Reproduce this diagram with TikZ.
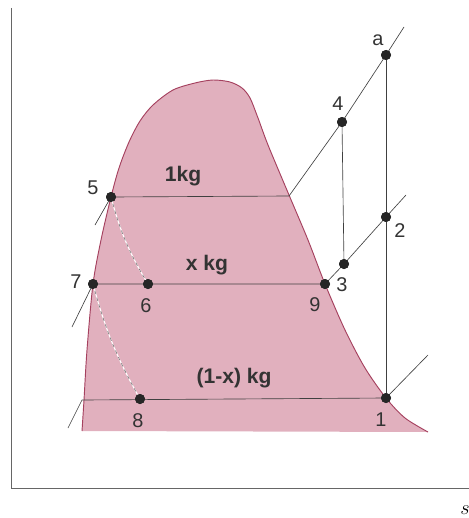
\documentclass[tikz,border=0pt]{standalone}
\usepackage{fontspec}
\setmainfont{Liberation Sans}
\definecolor{domefill}{RGB}{225,176,190}
\definecolor{domeline}{RGB}{165,65,95}
\begin{document}
\begin{tikzpicture}[x=0.3mm, y=-0.3mm,
    dot/.style={circle, fill=black!85, inner sep=0pt, minimum size=3mm},
    num/.style={font=\fontsize{17}{20}\selectfont, text=black!80},
    mass/.style={font=\fontsize{18}{20}\selectfont\bfseries, text=black!80},
    proc/.style={black!75, line width=0.55pt}]
        \useasboundingbox (0,0) rectangle (469,518);
        % Axes
        \draw[black!60, line width=0.6pt] (11,8) -- (11,488) -- (469,488);
        \node[font=\fontsize{16}{18}\selectfont] (sax) at (465,510) {$s$};

        % Saturation dome
        \def\domecurve{(82,431) (84,400) (87,350) (93,284) (101,240) (111,197) (119,168) (129,142) (140,121) (153,105) (173,90) (195,83) (213,80) (230,82) (242,88) (250,98) (258,118) (268,145) (289,195) (308,240) (325,284) (345,330) (365,368) (386,398) (405,418) (428,432)}
        \fill[domefill] plot[smooth, tension=0.5] coordinates \domecurve -- cycle;
        \draw[domeline, line width=0.8pt] plot[smooth, tension=0.5] coordinates \domecurve;

        % State points
        \node[dot] (na) at (386,55) {};
        \node[dot] (n4) at (342,122) {};
        \node[dot] (n2) at (386,217) {};
        \node[dot] (n3) at (344,264) {};
        \node[dot] (n9) at (325,284) {};
        \node[dot] (n1) at (386,398) {};
        \node[dot] (n5) at (111,197) {};
        \node[dot] (n7) at (93,284) {};
        \node[dot] (n6) at (148,284) {};
        \node[dot] (n8) at (140,399) {};
        \coordinate (g5) at (289,196);
        \coordinate (ga) at (404,27);
        \coordinate (l5) at (95,225);
        \coordinate (g2) at (406,195);
        \coordinate (l7) at (72,327);
        \coordinate (f8) at (82,400);
        \coordinate (g1) at (428,355);
        \coordinate (l8) at (68,428);

        % Pressure lines
        \draw[proc] (l5) -- (n5.center) -- (g5) -- (n4.center) -- (na.center) -- (ga);
        \draw[proc] (l7) -- (n7.center) -- (n9.center) -- (n3.center) -- (n2.center) -- (g2);
        \draw[proc] (l8) -- (f8) -- (n1.center) -- (g1);
        % Compressions
        \draw[proc] (n4) -- (n3);
        \draw[proc] (na) -- (n1);
        % Throttling
        \draw[white, line width=0.9pt] (n5.center) to[bend right=8] (n6.center);
        \draw[black!55, dashed, line width=0.5pt] (n5.center) to[bend right=8] (n6.center);
        \draw[white, line width=0.9pt] (n7.center) to[bend right=7] (n8.center);
        \draw[black!55, dashed, line width=0.5pt] (n7.center) to[bend right=7] (n8.center);
        \foreach \p in {na,n4,n2,n3,n9,n1,n5,n7,n6,n8}
            \node[dot] at (\p) {};

        % Labels
        \node[num] (ta) at (378,40) {a};
        \node[num] (t4) at (338,104) {4};
        \node[num] (t2) at (400,231) {2};
        \node[num] (t3) at (342,285) {3};
        \node[num] (t9) at (315,305) {9};
        \node[num] (t1) at (381,420) {1};
        \node[num] (t5) at (93,188) {5};
        \node[num] (t7) at (76,282) {7};
        \node[num] (t6) at (146,306) {6};
        \node[num] (t8) at (138,421) {8};
        \node[mass] (m1) at (183,176) {1kg};
        \node[mass] (mx) at (207,265) {x kg};
        \node[mass] (my) at (234,378) {(1-x) kg};
    \end{tikzpicture}
\end{document}
